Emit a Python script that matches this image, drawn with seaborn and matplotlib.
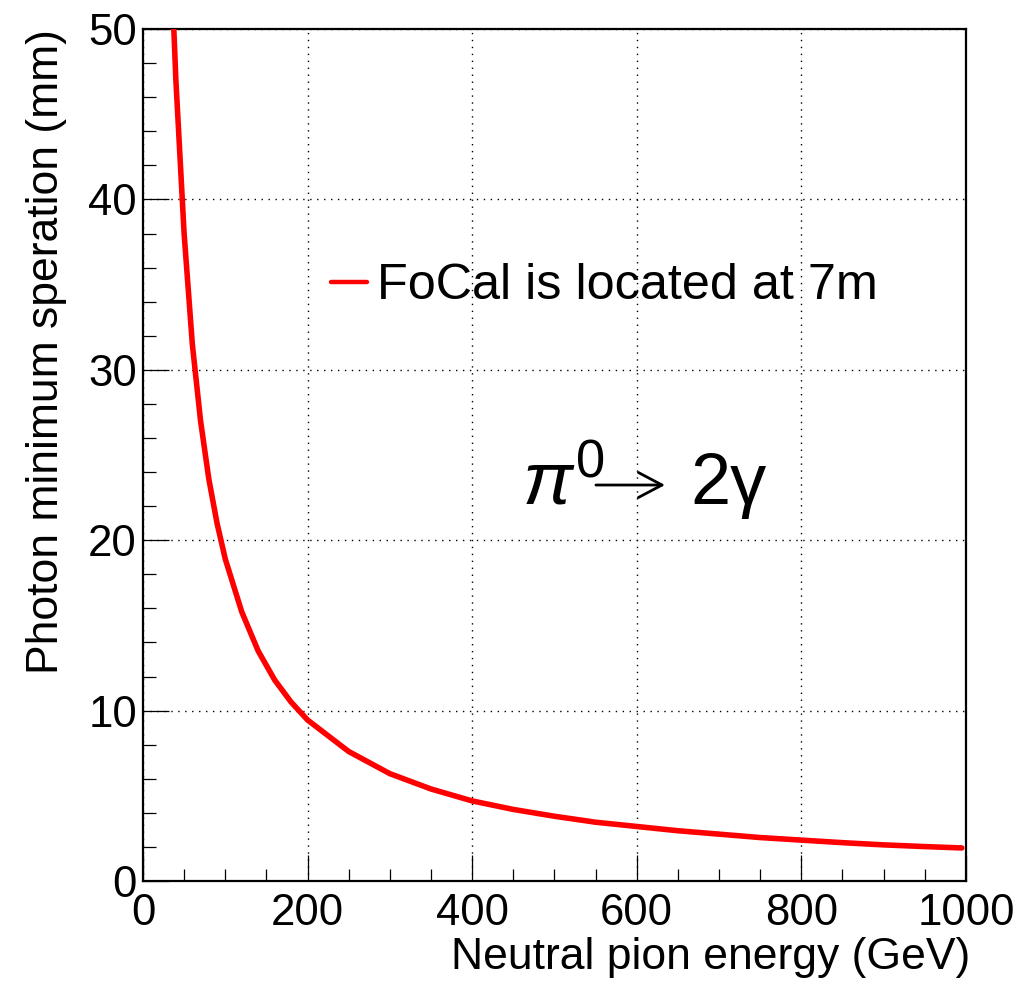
import matplotlib
matplotlib.use("Agg")
import matplotlib.pyplot as plt
from matplotlib.ticker import MultipleLocator
import pandas as pd
import seaborn as sns

# values
energy_gev = [35, 40, 50, 60, 70, 80, 90, 100, 120, 140, 160, 180, 200,
              250, 300, 350, 400, 450, 500, 550, 600, 650, 700, 750, 800,
              850, 900, 950, 995]
separation_mm = [53.0, 47.0, 38.0, 31.5, 27.0, 23.6, 21.0, 18.9, 15.8, 13.5,
                 11.8, 10.5, 9.45, 7.6, 6.3, 5.4, 4.7, 4.2, 3.8, 3.45, 3.2,
                 2.95, 2.75, 2.55, 2.4, 2.25, 2.12, 2.02, 1.94]
series_label = "FoCal is located at 7m"

df = pd.DataFrame({"energy": energy_gev, "sep": separation_mm})

sns.set_style("white")
plt.rcParams["font.family"] = ["Liberation Sans", "DejaVu Sans"]
plt.rcParams["mathtext.fontset"] = "custom"
plt.rcParams["mathtext.rm"] = "Liberation Sans"
plt.rcParams["mathtext.it"] = "Liberation Sans:italic"
plt.rcParams["mathtext.sf"] = "Liberation Sans"
plt.rcParams["mathtext.fallback"] = "stixsans"
for key in ["text.color", "axes.labelcolor", "xtick.color", "ytick.color"]:
    plt.rcParams[key] = "black"

fig = plt.figure(figsize=(10.3, 9.88), dpi=100)
ax = fig.add_axes([0.1388, 0.1083, 0.7990, 0.8623])

sns.lineplot(data=df, x="energy", y="sep", ax=ax, color="#ff0000",
             linewidth=4.0, label=series_label, zorder=3)

ax.set_xlim(0, 1000)
ax.set_ylim(0, 50)

# ROOT-like ticks
ax.xaxis.set_major_locator(MultipleLocator(200))
ax.xaxis.set_minor_locator(MultipleLocator(50))
ax.yaxis.set_major_locator(MultipleLocator(10))
ax.yaxis.set_minor_locator(MultipleLocator(2))
ax.tick_params(which="both", direction="in", bottom=True, left=True,
               top=False, right=False, color="black", width=0.9)
ax.tick_params(which="major", length=19, labelsize=31.5)
ax.tick_params(which="minor", length=9)
ax.tick_params(axis="x", which="major", pad=8.5)
ax.tick_params(axis="y", which="major", pad=4.3)

for sp in ax.spines.values():
    sp.set_color("black")
    sp.set_linewidth(1.6)

ax.grid(True, which="major", color="black", linewidth=1.0,
        linestyle=(0, (1, 4)))
ax.set_axisbelow(True)

ax.set_xlabel("Neutral pion energy (GeV)", fontsize=32, ha="right", va="baseline")
ax.xaxis.set_label_coords(1.005, -0.103)
ax.set_ylabel("Photon minimum speration (mm)", fontsize=32, ha="right", va="baseline")
ax.yaxis.set_label_coords(-0.103, 1.0)

leg = ax.legend(loc="center left", bbox_to_anchor=(0.228, 0.698), frameon=False,
                fontsize=36.3, handlelength=0.72, handletextpad=0.2,
                borderpad=0, borderaxespad=0)
for h in leg.get_lines():
    h.set_linewidth(3.2)

# pi0 -> 2 gamma annotation
ax.text(0.4605, 0.4425, r"$\pi^{0}$", transform=ax.transAxes,
        fontsize=54, ha="left", va="baseline")
ax.annotate("", xy=(0.6343, 0.4648), xytext=(0.5504, 0.4648),
            xycoords="axes fraction", textcoords="axes fraction",
            arrowprops=dict(arrowstyle="->,head_length=0.85,head_width=0.45",
                            lw=2.0, color="black", mutation_scale=20,
                            shrinkA=0, shrinkB=0))
ax.text(0.6646, 0.4425, "2γ", transform=ax.transAxes,
        fontsize=52, ha="left", va="baseline")

fig.savefig("out.png", dpi=100)
plt.close(fig)
